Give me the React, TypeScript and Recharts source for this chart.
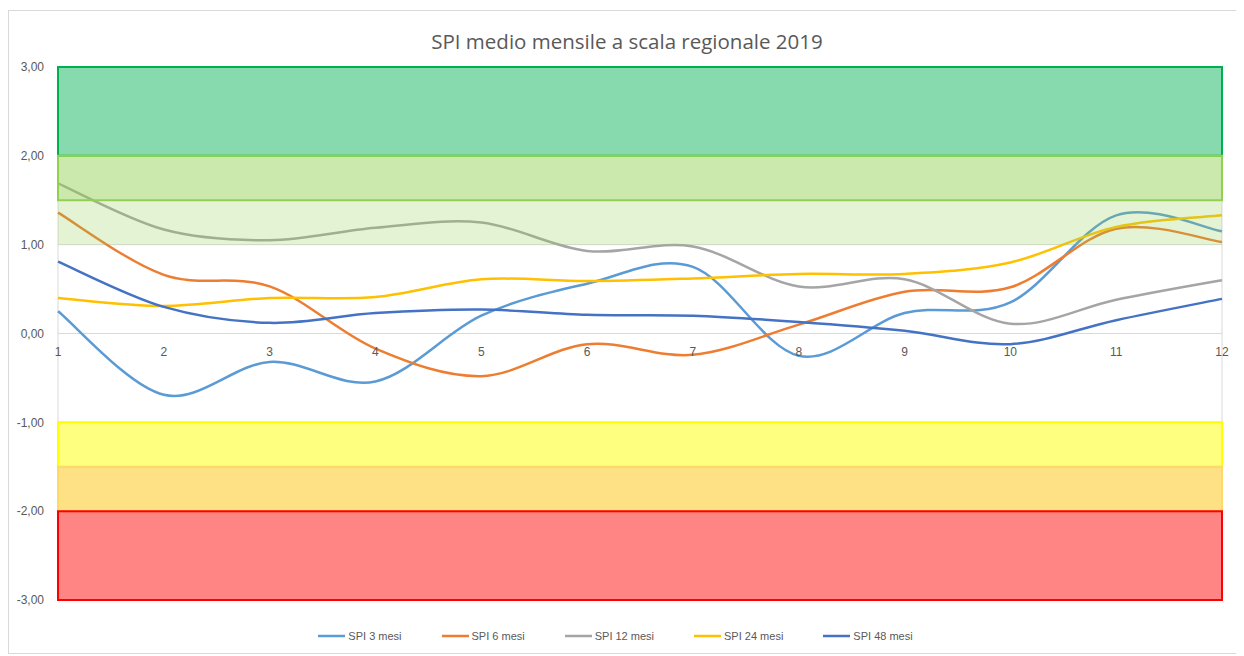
import React from 'react';
import {
  ComposedChart,
  Line,
  XAxis,
  YAxis,
  CartesianGrid,
  ReferenceArea,
  ReferenceDot,
  Legend,
} from 'recharts';

const months = [1, 2, 3, 4, 5, 6, 7, 8, 9, 10, 11, 12];
const spi3 = [0.25, -0.69, -0.32, -0.54, 0.2, 0.56, 0.75, -0.25, 0.23, 0.35, 1.33, 1.15];
const spi6 = [1.36, 0.66, 0.53, -0.17, -0.48, -0.12, -0.24, 0.1, 0.47, 0.52, 1.18, 1.03];
const spi12 = [1.69, 1.17, 1.05, 1.19, 1.25, 0.93, 0.98, 0.53, 0.61, 0.11, 0.38, 0.6];
const spi24 = [0.4, 0.31, 0.4, 0.41, 0.61, 0.59, 0.62, 0.67, 0.67, 0.8, 1.2, 1.33];
const spi48 = [0.81, 0.3, 0.12, 0.23, 0.27, 0.21, 0.2, 0.13, 0.03, -0.12, 0.15, 0.39];
const yTicks = [-3, -2, -1, 0, 1, 2, 3];
const seriesNames = ['SPI 3 mesi', 'SPI 6 mesi', 'SPI 12 mesi', 'SPI 24 mesi', 'SPI 48 mesi'];
const bandLimits = [
  [2, 3],
  [1.5, 2],
  [1, 1.5],
  [-1.5, -1],
  [-2, -1.5],
  [-3, -2],
];

const seriesKeys = ['spi3', 'spi6', 'spi12', 'spi24', 'spi48'];
const seriesColors = ['#5B9BD5', '#ED7D31', '#A5A5A5', '#FFC000', '#4472C4'];
const bandStyles = [
  { fill: '#00B050', fillOpacity: 0.47, stroke: '#00B050' },
  { fill: '#92D050', fillOpacity: 0.47, stroke: '#92D050' },
  { fill: '#92D050', fillOpacity: 0.25, stroke: 'none' },
  { fill: '#FFFF00', fillOpacity: 0.5, stroke: '#FFFF00' },
  { fill: '#FFC000', fillOpacity: 0.48, stroke: '#FFD966' },
  { fill: '#FF0000', fillOpacity: 0.48, stroke: '#FF0000' },
];

const data = months.map((m, i) => ({
  m,
  spi3: spi3[i],
  spi6: spi6[i],
  spi12: spi12[i],
  spi24: spi24[i],
  spi48: spi48[i],
}));

// Excel-like smoothed line (Catmull-Rom style bezier)
const excelCurve = (context: any) => {
  let pts: number[][] = [];
  return {
    areaStart() {},
    areaEnd() {},
    lineStart() {
      pts = [];
    },
    point(x: number, y: number) {
      pts.push([+x, +y]);
    },
    lineEnd() {
      if (!pts.length) return;
      context.moveTo(pts[0][0], pts[0][1]);
      for (let i = 0; i < pts.length - 1; i++) {
        const p0 = pts[i - 1] || pts[i];
        const p1 = pts[i];
        const p2 = pts[i + 1];
        const p3 = pts[i + 2] || p2;
        context.bezierCurveTo(
          p1[0] + (p2[0] - p0[0]) / 6,
          p1[1] + (p2[1] - p0[1]) / 6,
          p2[0] - (p3[0] - p1[0]) / 6,
          p2[1] - (p3[1] - p1[1]) / 6,
          p2[0],
          p2[1]
        );
      }
    },
  };
};

const fmt = (v: number) => v.toFixed(2).replace('.', ',');

const LegendContent = (props: any) => {
  const payload = [...(props.payload || [])].sort(
    (a: any, b: any) => seriesNames.indexOf(a.value) - seriesNames.indexOf(b.value)
  );
  return (
    <div style={{ display: 'flex', justifyContent: 'center', alignItems: 'center', height: 24 }}>
      {payload.map((p: any) => (
        <div key={p.value} style={{ display: 'flex', alignItems: 'center', margin: '0 20px' }}>
          <svg width={27} height={10} style={{ marginRight: 3 }}>
            <line x1={0} y1={5} x2={27} y2={5} stroke={p.color} strokeWidth={2.5} />
          </svg>
          <span
            style={{
              fontFamily: '"Liberation Sans Narrow", "Liberation Sans", Arial, sans-serif',
              fontSize: 11,
              color: '#595959',
            }}
          >
            {p.value}
          </span>
        </div>
      ))}
    </div>
  );
};

export default function App() {
  return (
    <div
      style={{
        position: 'relative',
        width: 1230,
        height: 642,
        marginTop: 2,
        border: '1px solid #d9d9d9',
        background: '#fff',
      }}
    >
      <div
        style={{
          position: 'absolute',
          left: 6,
          right: 0,
          top: 16,
          textAlign: 'center',
          fontFamily: '"Open Sans", "Liberation Sans", sans-serif',
          fontSize: 20.5,
          color: '#595959',
          zIndex: 2,
        }}
      >
        SPI medio mensile a scala regionale 2019
      </div>
      <ComposedChart
        width={1230}
        height={642}
        data={data}
        margin={{ top: 56, right: 17, bottom: 29, left: 0 }}
      >
        <CartesianGrid stroke="#d9d9d9" strokeWidth={1} />
        <XAxis
          dataKey="m"
          type="number"
          domain={[1, 12]}
          ticks={months}
          height={0}
          tick={false}
          axisLine={false}
          tickLine={false}
        />
        <YAxis
          domain={[-3, 3]}
          ticks={yTicks}
          width={49}
          axisLine={false}
          tickLine={false}
          tickSize={0}
          tickMargin={14}
          tickFormatter={fmt}
          tick={{ fill: '#595959', fontSize: 12, fontFamily: '"Liberation Sans", Arial, sans-serif' }}
        />
        {seriesKeys.map((k, i) => (
          <Line
            key={k}
            dataKey={k}
            name={seriesNames[i]}
            type={excelCurve as any}
            stroke={seriesColors[i]}
            strokeWidth={2.5}
            dot={false}
            activeDot={false}
            isAnimationActive={false}
          />
        ))}
        {bandLimits.map((b, i) => (
          <ReferenceArea
            key={'band' + i}
            y1={b[0]}
            y2={b[1]}
            fill={bandStyles[i].fill}
            fillOpacity={bandStyles[i].fillOpacity}
            stroke={bandStyles[i].stroke}
            strokeWidth={2}
            zIndex={450}
          />
        ))}
        {months.map((m) => (
          <ReferenceDot
            key={'lbl' + m}
            x={m}
            y={0}
            r={0}
            fill="none"
            stroke="none"
            label={{
              value: String(m),
              position: 'bottom',
              offset: 14,
              fill: '#595959',
              fontSize: 12,
              fontFamily: '"Liberation Sans", Arial, sans-serif',
            }}
          />
        ))}
        <Legend
          verticalAlign="bottom"
          itemSorter={null as any}
          content={<LegendContent />}
          wrapperStyle={{ height: 24, bottom: 5 }}
        />
      </ComposedChart>
    </div>
  );
}
